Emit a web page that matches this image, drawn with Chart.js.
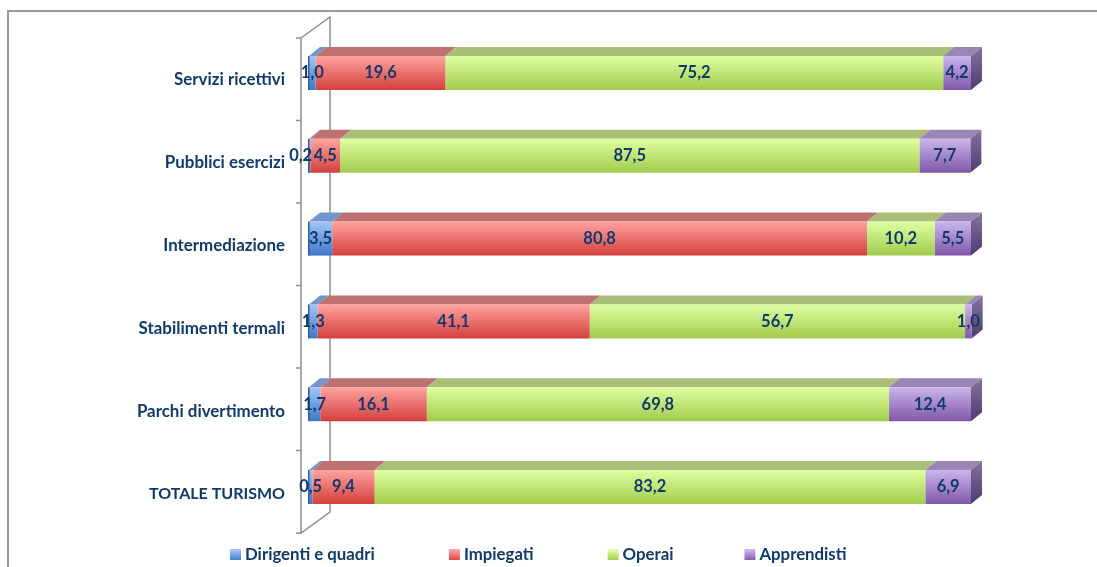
<!DOCTYPE html>
<html>
<head>
<meta charset="utf-8">
<style>
html, body { margin: 0; padding: 0; background: #fff; }
#wrap { position: relative; width: 1097px; height: 567px; overflow: hidden; }
</style>
<script src="https://cdn.jsdelivr.net/npm/chart.js@4/dist/chart.umd.js"></script>
</head>
<body>
<div id="wrap"><canvas id="chart" width="1097" height="567"></canvas></div>
<script>
var categories = ["Servizi ricettivi", "Pubblici esercizi", "Intermediazione", "Stabilimenti termali", "Parchi divertimento", "TOTALE TURISMO"];
var dirigenti = [1.0, 0.2, 3.5, 1.3, 1.7, 0.5];
var impiegati = [19.6, 4.5, 80.8, 41.1, 16.1, 9.4];
var operai = [75.2, 87.5, 10.2, 56.7, 69.8, 83.2];
var apprendisti = [4.2, 7.7, 5.5, 1.0, 12.4, 6.9];
var seriesNames = ["Dirigenti e quadri", "Impiegati", "Operai", "Apprendisti"];

var TEXT = "#0f3a6b";
var AXIS = "#8f8f8f";
var FONT = "Lato, sans-serif";
var BAR_H = 34;
var DX = 11, DY = 9;

var palette = [
	{ top: "#a3c4f7", bottom: "#3f78c6", lid: "#6f97cc", side: ["#6f97cc", "#2f5a96"] },
	{ top: "#ffa3a0", bottom: "#d43f3c", lid: "#bd7171", side: ["#b56a68", "#8c2c2a"] },
	{ top: "#deffa2", bottom: "#a2cb4b", lid: "#a9bf79", side: ["#a9bf79", "#6f8c33"] },
	{ top: "#cbb5ec", bottom: "#7f57a8", lid: "#9a86b4", side: ["#8573a3", "#4e3a6e"] }
];

function frontGradient(i) {
	return function (c) {
		var chart = c.chart;
		var mid = chart.scales.y ? chart.scales.y.getPixelForValue(c.dataIndex) : NaN;
		if (!isFinite(mid)) return palette[i].bottom;
		var g = chart.ctx.createLinearGradient(0, mid - BAR_H / 2, 0, mid + BAR_H / 2);
		g.addColorStop(0, palette[i].top);
		g.addColorStop(1, palette[i].bottom);
		return g;
	};
}

function poly(ctx, pts, fill) {
	ctx.beginPath();
	ctx.moveTo(pts[0][0], pts[0][1]);
	for (var i = 1; i < pts.length; i++) ctx.lineTo(pts[i][0], pts[i][1]);
	ctx.closePath();
	ctx.fillStyle = fill;
	ctx.fill();
}

// frame, 3d wall, and the tops and ends of the bars
var depthPlugin = {
	id: "depth",
	beforeDatasetsDraw: function (chart) {
		var ctx = chart.ctx, area = chart.chartArea;
		ctx.save();

		ctx.strokeStyle = "#9a9a9a";
		ctx.lineWidth = 2;
		ctx.beginPath();
		ctx.moveTo(8, 567);
		ctx.lineTo(8, 11);
		ctx.lineTo(1097, 11);
		ctx.stroke();

		var wallL = area.left - 8, wallR = area.left + 21;
		var wallTop = 38, wallBottom = 533;
		var rise = 21;
		ctx.strokeStyle = AXIS;
		ctx.lineWidth = 1.5;
		ctx.beginPath();
		ctx.moveTo(wallL, wallTop);
		ctx.lineTo(wallL, wallBottom);
		ctx.lineTo(wallR, wallBottom - rise);
		ctx.lineTo(wallR, wallTop - rise);
		ctx.lineTo(wallL, wallTop);
		for (var t = 0; t <= categories.length; t++) {
			var ty = wallTop + (wallBottom - wallTop) * t / categories.length;
			ctx.moveTo(wallL, ty);
			ctx.lineTo(wallL - 5, ty);
		}
		ctx.stroke();

		chart.data.datasets.forEach(function (ds, i) {
			chart.getDatasetMeta(i).data.forEach(function (bar) {
				var x0 = bar.base, x1 = bar.x, yt = bar.y - BAR_H / 2;
				poly(ctx, [[x0, yt], [x1, yt], [x1 + DX, yt - DY], [x0 + DX, yt - DY]], palette[i].lid);
			});
		});

		var last = chart.data.datasets.length - 1;
		chart.getDatasetMeta(last).data.forEach(function (bar) {
			var x = bar.x, yt = bar.y - BAR_H / 2, yb = bar.y + BAR_H / 2;
			var g = ctx.createLinearGradient(0, yt - DY, 0, yb);
			g.addColorStop(0, palette[last].side[0]);
			g.addColorStop(1, palette[last].side[1]);
			poly(ctx, [[x, yt], [x + DX, yt - DY], [x + DX, yb - DY], [x, yb]], g);
		});
		ctx.restore();
	},
	afterDatasetsDraw: function (chart) {
		var ctx = chart.ctx;
		ctx.save();

		// dark edge on the zero side of each bar
		ctx.fillStyle = "#2f5f9f";
		chart.getDatasetMeta(0).data.forEach(function (bar) {
			ctx.fillRect(bar.base - 1, bar.y - BAR_H / 2, 1.5, BAR_H);
		});

		ctx.font = "bold 16.5px " + FONT;
		ctx.fillStyle = TEXT;
		ctx.textAlign = "center";
		ctx.textBaseline = "middle";
		chart.data.datasets.forEach(function (ds, i) {
			chart.getDatasetMeta(i).data.forEach(function (bar, j) {
				var nudge = ds.data[j] === 0.2 ? -9 : 0;
				var txt = ds.data[j].toFixed(1).replace(".", ",");
				ctx.fillText(txt, (bar.base + bar.x) / 2 + nudge, bar.y);
			});
		});

		// legend, spaced like the original
		var x = 230, y = 555;
		var gaps = [74, 74, 71];
		ctx.font = "bold 16.8px " + FONT;
		ctx.textAlign = "left";
		seriesNames.forEach(function (name, i) {
			var g = ctx.createLinearGradient(0, y - 5, 0, y + 6);
			g.addColorStop(0, palette[i].top);
			g.addColorStop(1, palette[i].bottom);
			ctx.fillStyle = g;
			ctx.fillRect(x, y - 6, 11, 11);
			ctx.fillStyle = TEXT;
			ctx.fillText(name, x + 15, y);
			x += 15 + ctx.measureText(name).width + gaps[i];
		});
		ctx.restore();
	}
};

var allSeries = [dirigenti, impiegati, operai, apprendisti];

new Chart(document.getElementById("chart"), {
	type: "bar",
	plugins: [depthPlugin],
	data: {
		labels: categories,
		datasets: allSeries.map(function (vals, i) {
			return {
				label: seriesNames[i],
				data: vals,
				backgroundColor: frontGradient(i),
				borderWidth: 0,
				categoryPercentage: 1,
				barPercentage: BAR_H / 82.8,
				clip: false
			};
		})
	},
	options: {
		indexAxis: "y",
		responsive: false,
		animation: false,
		layout: { padding: { left: 107, right: 126, top: 31.6, bottom: 38.6 } },
		plugins: { legend: { display: false }, tooltip: { enabled: false } },
		scales: {
			x: { stacked: true, min: 0, max: 100, display: false },
			y: {
				stacked: true,
				grid: { display: false, drawTicks: false },
				border: { display: false },
				afterFit: function (scale) {
					scale.width = 202;
					scale.paddingTop = 0;
					scale.paddingBottom = 0;
				},
				ticks: {
					color: TEXT,
					padding: 24,
					labelOffset: 7,
					font: function (c) {
						return { family: FONT, size: c.index === categories.length - 1 ? 16 : 16.9, weight: "bold" };
					}
				}
			}
		}
	}
});
</script>
</body>
</html>
